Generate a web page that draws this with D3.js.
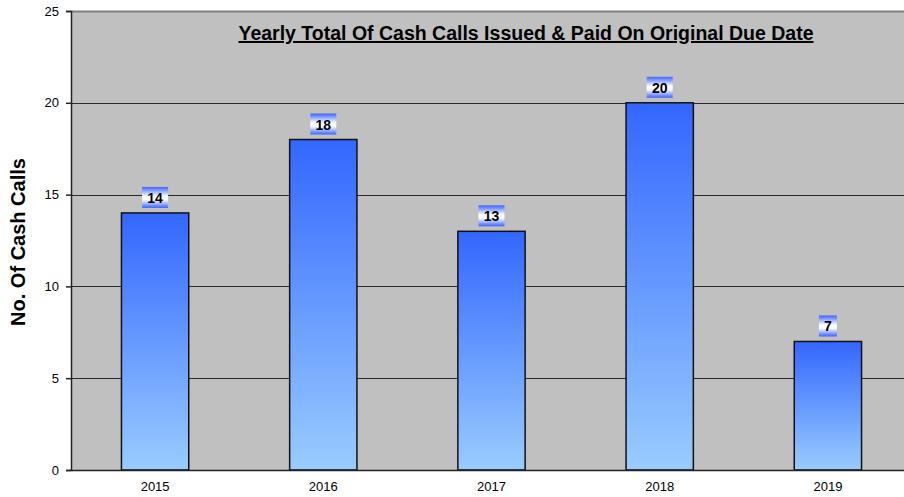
<!DOCTYPE html>
<html>
<head>
<meta charset="utf-8">
<script src="https://cdn.jsdelivr.net/npm/d3@7"></script>
<style>
  body { margin: 0; background: #fff; }
  svg { display: block; font-family: "Liberation Sans", Arial, sans-serif; }
</style>
</head>
<body>
<figure id="cash-calls" style="margin:0"></figure>
<script>
const years = ["2015", "2016", "2017", "2018", "2019"];
const cashCalls = [14, 18, 13, 20, 7];
const yTicks = [0, 5, 10, 15, 20, 25];

const width = 904, height = 497;
const plotLeft = 71, plotTop = 11, plotBottom = 470, plotRight = 912;

const svg = d3.select("figure#cash-calls")
  .append("svg")
  .attr("width", width)
  .attr("height", height);

const defs = svg.append("defs");
const barGrad = defs.append("linearGradient")
  .attr("id", "barGrad").attr("x1", 0).attr("y1", 0).attr("x2", 0).attr("y2", 1);
barGrad.append("stop").attr("offset", "0%").attr("stop-color", "#3366ff");
barGrad.append("stop").attr("offset", "100%").attr("stop-color", "#99ccff");

const labelGrad = defs.append("linearGradient")
  .attr("id", "labelGrad").attr("x1", 0).attr("y1", 0).attr("x2", 0).attr("y2", 1);
labelGrad.append("stop").attr("offset", "0%").attr("stop-color", "#3d63ff");
labelGrad.append("stop").attr("offset", "45%").attr("stop-color", "#ffffff");
labelGrad.append("stop").attr("offset", "60%").attr("stop-color", "#ffffff");
labelGrad.append("stop").attr("offset", "100%").attr("stop-color", "#3d63ff");

// scales
const x = d3.scaleBand().domain(years).range([plotLeft, plotRight]).padding(0);
const y = d3.scaleLinear().domain([0, 25]).range([plotBottom, plotTop]);

// plot background
svg.append("rect")
  .attr("x", plotLeft).attr("y", plotTop)
  .attr("width", plotRight - plotLeft).attr("height", plotBottom - plotTop)
  .attr("fill", "#c0c0c0");
svg.append("line")
  .attr("x1", plotLeft).attr("x2", plotRight)
  .attr("y1", plotTop + 0.5).attr("y2", plotTop + 0.5)
  .attr("stroke", "#808080").attr("stroke-width", 2);

// gridlines
svg.append("g").selectAll("line")
  .data(yTicks.filter(d => d > 0 && d < 25))
  .enter().append("line")
  .attr("x1", plotLeft).attr("x2", plotRight)
  .attr("y1", d => Math.round(y(d)) + 0.5).attr("y2", d => Math.round(y(d)) + 0.5)
  .attr("stroke", "#2a2a2a").attr("stroke-width", 1.2);

// bars
const bw = x.bandwidth() * 0.4;
svg.append("g").selectAll("rect")
  .data(cashCalls)
  .enter().append("rect")
  .attr("x", (d, i) => x(years[i]) + (x.bandwidth() - bw) / 2)
  .attr("y", d => y(d))
  .attr("width", bw)
  .attr("height", d => plotBottom - y(d))
  .attr("fill", "url(#barGrad)")
  .attr("stroke", "#111")
  .attr("stroke-width", 1.5);

// y axis
const yaxis = svg.append("g")
  .attr("transform", "translate(" + plotLeft + ",0)")
  .call(d3.axisLeft(y).tickValues(yTicks).tickSize(5).tickPadding(7));
yaxis.select(".domain").attr("stroke", "#222").attr("stroke-width", 1.5);
yaxis.selectAll("line").attr("stroke", "#222").attr("stroke-width", 1.5);
yaxis.selectAll("text").style("font-size", "13px").style("fill", "#000");

// x axis
const xaxis = svg.append("g")
  .attr("transform", "translate(0," + plotBottom + ")")
  .call(d3.axisBottom(x).tickSize(0).tickPadding(12));
xaxis.select(".domain").attr("stroke", "#222").attr("stroke-width", 1.5);
xaxis.selectAll("text").style("font-size", "13px").style("fill", "#000");

// value labels
const labels = svg.append("g").selectAll("g")
  .data(cashCalls)
  .enter().append("g")
  .attr("transform", (d, i) => "translate(" + (x(years[i]) + x.bandwidth() / 2) + "," + y(d) + ")");
labels.append("rect")
  .attr("x", d => String(d).length > 1 ? -13 : -9)
  .attr("y", -26)
  .attr("width", d => String(d).length > 1 ? 26 : 18)
  .attr("height", 21)
  .attr("fill", "url(#labelGrad)");
labels.append("text")
  .attr("text-anchor", "middle")
  .attr("y", -10)
  .style("font-size", "14px")
  .style("font-weight", "bold")
  .text(d => d);

// title
svg.append("text")
  .attr("x", 526).attr("y", 40)
  .attr("text-anchor", "middle")
  .style("font-size", "19.5px")
  .style("font-weight", "bold")
  .style("text-decoration", "underline")
  .text("Yearly  Total Of Cash Calls Issued & Paid On Original Due Date");

// y axis title
svg.append("text")
  .attr("transform", "translate(25,242) rotate(-90)")
  .attr("text-anchor", "middle")
  .style("font-size", "20px")
  .style("font-weight", "bold")
  .text("No. Of Cash Calls");
</script>
</body>
</html>
